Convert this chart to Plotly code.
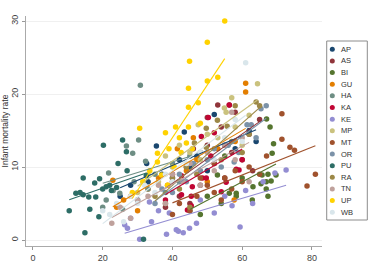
import numpy as np
import plotly.graph_objects as go

# ---- data ----
states = ["AP", "AS", "BI", "GU", "HA", "KA", "KE", "MP", "MT", "OR", "PU", "RA", "TN", "UP", "WB"]
colors = ["#1a476f", "#90353b", "#55752f", "#e37e00", "#6e8e84", "#c10534", "#938dd2", "#cac27e",
          "#a0522d", "#7b92a8", "#2d6d66", "#9c8847", "#bfa19c", "#ffd200", "#d9e6eb"]

AP = [(25.0, 6.0), (28.0, 7.5), (30.0, 5.5), (32.6, 10.5), (33.0, 8.0), (35.4, 12.9), (37.0, 9.0), (40.0, 8.5),
      (42.0, 11.0), (43.4, 14.8), (45.0, 10.0), (47.0, 11.5), (48.0, 12.0), (50.0, 9.5), (52.0, 17.2), (55.0, 13.0),
      (58.0, 12.5), (62.0, 15.0), (64.0, 13.5)]
AS = [(38.0, 4.5), (40.0, 8.0), (42.0, 6.0), (44.0, 10.0), (45.0, 5.0), (46.0, 12.5), (48.0, 7.5), (50.0, 13.0),
      (50.0, 16.8), (52.0, 10.5), (53.0, 18.5), (54.0, 15.5), (55.0, 8.5), (56.3, 18.5), (57.0, 12.0), (58.0, 17.5),
      (60.0, 11.0), (62.0, 14.5), (63.0, 9.5), (65.0, 16.5)]
BI = [(45.0, 4.0), (48.0, 3.5), (50.0, 6.0), (52.9, 8.9), (54.0, 5.0), (55.0, 11.5), (56.3, 6.4), (58.3, 6.0),
      (58.3, 6.4), (60.0, 8.5), (62.9, 5.5), (63.1, 7.3), (65.4, 7.7), (65.7, 8.9), (66.9, 8.0), (66.9, 7.0),
      (67.4, 9.0), (67.4, 6.0), (68.3, 8.1), (69.7, 8.9), (67.0, 16.6), (68.0, 15.5), (69.0, 13.2), (68.6, 11.9)]
GU = [(22.9, 8.2), (24.0, 4.5), (26.0, 5.5), (28.0, 6.0), (30.0, 4.0), (33.0, 7.0), (36.0, 8.5), (38.6, 7.5),
      (41.4, 12.5), (44.0, 9.5), (46.0, 14.0), (47.0, 11.0), (50.0, 8.0), (53.0, 12.5), (57.7, 5.5), (58.0, 13.5),
      (61.0, 21.5), (61.0, 20.3)]
HA = [(20.0, 4.5), (21.0, 5.5), (21.7, 9.2), (23.0, 6.8), (24.9, 6.4), (25.7, 4.2), (26.8, 12.9), (28.6, 11.9),
      (29.0, 8.0), (30.3, 13.7), (30.8, 21.2), (32.3, 10.8), (33.0, 7.0), (35.0, 9.0), (38.0, 6.5), (40.0, 10.5),
      (42.0, 8.0), (45.0, 11.5)]
KA = [(38.0, 5.5), (40.0, 9.0), (42.6, 8.8), (42.6, 6.2), (44.3, 4.1), (45.4, 6.0), (45.4, 4.7), (45.7, 7.3),
      (48.3, 14.2), (48.6, 8.5), (49.7, 8.5), (50.3, 16.8), (51.0, 11.5), (52.0, 14.7), (54.0, 6.6), (55.4, 7.9),
      (56.3, 18.5), (58.3, 9.7), (59.1, 9.6), (60.0, 11.0)]
KE = [(26.3, 2.1), (27.1, 1.6), (28.0, 3.0), (30.6, 0.1), (33.4, 5.2), (34.0, 2.5), (36.0, 4.0), (38.3, 0.8),
      (39.1, 3.7), (41.1, 1.4), (41.7, 1.2), (43.1, 1.0), (44.9, 1.6), (46.9, 2.3), (48.0, 5.5), (52.0, 3.7),
      (55.0, 6.0), (57.1, 4.7), (59.4, 1.8), (61.0, 6.8), (63.0, 5.0), (66.0, 8.0), (69.4, 9.2), (72.6, 9.6)]
MP = [(30.0, 6.5), (33.0, 9.0), (36.0, 8.0), (38.0, 11.5), (40.0, 10.0), (42.0, 13.0), (45.0, 12.0), (47.4, 15.8),
      (48.0, 11.0), (50.0, 14.5), (53.0, 14.0), (54.9, 18.1), (55.4, 17.5), (57.0, 19.5), (58.0, 15.5), (60.0, 13.0),
      (62.0, 17.1), (64.4, 21.4)]
MT = [(40.0, 3.5), (42.0, 5.0), (45.0, 4.0), (47.0, 6.0), (48.0, 8.5), (50.0, 7.5), (52.0, 6.5), (52.0, 10.5),
      (54.0, 5.5), (55.0, 8.5), (57.0, 7.0), (58.0, 9.5), (60.0, 8.0), (62.0, 10.0), (65.0, 9.0), (67.0, 11.5),
      (71.4, 17.3), (71.4, 13.8), (73.7, 12.7), (75.0, 12.3), (78.6, 7.4), (81.0, 9.0)]
OR = [(35.0, 5.0), (37.0, 7.0), (40.0, 6.5), (42.0, 9.0), (44.0, 8.0), (46.0, 10.5), (48.0, 9.5), (50.0, 11.0),
      (52.0, 12.5), (54.0, 10.0), (56.0, 13.0), (57.7, 10.7), (59.0, 12.0), (61.4, 15.8), (62.6, 15.8), (64.0, 14.0),
      (65.4, 18.0), (66.9, 18.4)]
PU = [(10.4, 4.0), (12.3, 6.4), (13.5, 6.5), (14.4, 8.5), (14.4, 6.2), (14.9, 1.0), (16.0, 5.9), (16.3, 4.2),
      (17.7, 7.8), (18.0, 5.9), (18.9, 3.2), (19.1, 8.4), (20.0, 7.0), (20.2, 13.0), (21.0, 7.3), (22.0, 7.5),
      (22.5, 6.8), (24.0, 7.2), (24.4, 10.5), (25.7, 13.7), (26.8, 12.1), (27.0, 9.5), (31.7, 0.1), (32.5, 8.8)]
RA = [(35.0, 6.0), (38.0, 5.0), (40.0, 8.5), (42.0, 7.0), (44.0, 10.0), (45.0, 4.5), (46.3, 13.3), (47.0, 9.0),
      (49.7, 12.7), (49.7, 15.3), (52.9, 16.4), (54.0, 11.0), (55.7, 15.6), (57.0, 13.5), (58.0, 18.4), (60.0, 12.0),
      (62.0, 14.5), (64.0, 18.9), (65.0, 18.4)]
TN = [(22.6, 2.3), (25.0, 4.5), (28.0, 3.0), (30.0, 5.5), (33.0, 6.0), (36.0, 7.5), (38.0, 5.0), (40.0, 9.0),
      (43.0, 8.0), (45.0, 10.5), (48.0, 7.5), (50.0, 12.0), (52.0, 9.5), (55.0, 13.0), (57.0, 17.5), (58.0, 11.0),
      (60.0, 14.0), (62.0, 8.0)]
UP = [(28.5, 6.5), (30.6, 15.3), (31.5, 8.0), (33.5, 9.5), (35.7, 11.9), (35.7, 10.7), (36.9, 8.9), (38.0, 14.7),
      (38.6, 7.5), (39.0, 12.5), (40.5, 10.0), (40.9, 15.5), (42.0, 14.0), (42.5, 12.0), (44.0, 13.3), (44.6, 15.5),
      (44.6, 18.2), (44.6, 20.8), (44.9, 24.5), (45.7, 12.5), (47.4, 18.8), (48.0, 16.0), (50.0, 21.8), (50.0, 27.1),
      (53.0, 22.3), (55.0, 30.0)]
WB = [(20.0, 4.0), (22.0, 3.5), (24.0, 5.0), (26.0, 2.5), (28.0, 6.0), (30.0, 5.0), (32.0, 7.5), (35.0, 6.5),
      (38.0, 9.0), (40.0, 8.0), (44.0, 10.5), (48.0, 12.0), (52.0, 11.0), (55.0, 14.0), (58.0, 16.5), (60.0, 13.5),
      (61.0, 24.3)]

data = [AP, AS, BI, GU, HA, KA, KE, MP, MT, OR, PU, RA, TN, UP, WB]

x_ticks = [0, 20, 40, 60, 80]
y_ticks = [0, 10, 20, 30]
y_title = "Infant mortality rate"

FONT = "Liberation Sans, Arial, sans-serif"

fig = go.Figure()

# scatter points
for name, col, pts in zip(states, colors, data):
    xs = [p[0] for p in pts]
    ys = [p[1] for p in pts]
    fig.add_trace(go.Scatter(x=xs, y=ys, mode="markers", name=name, showlegend=False,
                             marker=dict(color=col, size=5.5, line=dict(width=0))))

# linear fits
for name, col, pts in zip(states, colors, data):
    xs = np.array([p[0] for p in pts])
    ys = np.array([p[1] for p in pts])
    b, a = np.polyfit(xs, ys, 1)
    xl = np.array([xs.min(), xs.max()])
    fig.add_trace(go.Scatter(x=xl, y=a + b * xl, mode="lines", showlegend=False,
                             line=dict(color=col, width=1.1)))

# manual legend on its own axis (pixel-like coordinates)
leg_x = [332.3] * len(states)
leg_y = [49.3 + 11.64 * i for i in range(len(states))]
fig.add_trace(go.Scatter(x=leg_x, y=leg_y, xaxis="x2", yaxis="y2", mode="markers", showlegend=False,
                         marker=dict(color=colors, size=5, line=dict(width=0))))
for s, yy in zip(states, leg_y):
    fig.add_annotation(x=339.0, y=yy, xref="x2", yref="y2", text=s, showarrow=False,
                       xanchor="left", yanchor="middle", font=dict(size=7.5, color="#333333", family=FONT))
fig.add_shape(type="rect", xref="x2", yref="y2", x0=326.7, x1=367.3, y0=41, y1=220,
              line=dict(color="#8c8c8c", width=1), fillcolor="rgba(0,0,0,0)")

fig.update_layout(
    width=375, height=262,
    margin=dict(l=26, r=6, t=16, b=16),
    paper_bgcolor="white", plot_bgcolor="white",
    font=dict(family=FONT, size=9, color="#333333"),
    xaxis=dict(domain=[0, 0.863], range=[-2.0, 82.9], tickvals=x_ticks, ticks="outside", ticklen=3,
               tickcolor="#999999", showline=True, linecolor="#aaaaaa", linewidth=1, showgrid=False,
               zeroline=False, tickfont=dict(size=9, color="#444444"), automargin=False),
    yaxis=dict(range=[-0.82, 30.7], tickvals=y_ticks, ticks="outside", ticklen=3, tickangle=-90,
               tickcolor="#999999", showline=True, linecolor="#aaaaaa", linewidth=1, showgrid=True,
               gridcolor="#f0f0f0", gridwidth=1, zeroline=False, tickfont=dict(size=9, color="#444444"),
               automargin=False,
               title=dict(text=y_title, font=dict(size=8.5, color="#333333"), standoff=2)),
    xaxis2=dict(domain=[0.863, 1.0], range=[322, 369], visible=False, fixedrange=True),
    yaxis2=dict(domain=[0, 1], range=[246, 16], visible=False, fixedrange=True, anchor="x2"),
)

fig.write_html("out.html")
